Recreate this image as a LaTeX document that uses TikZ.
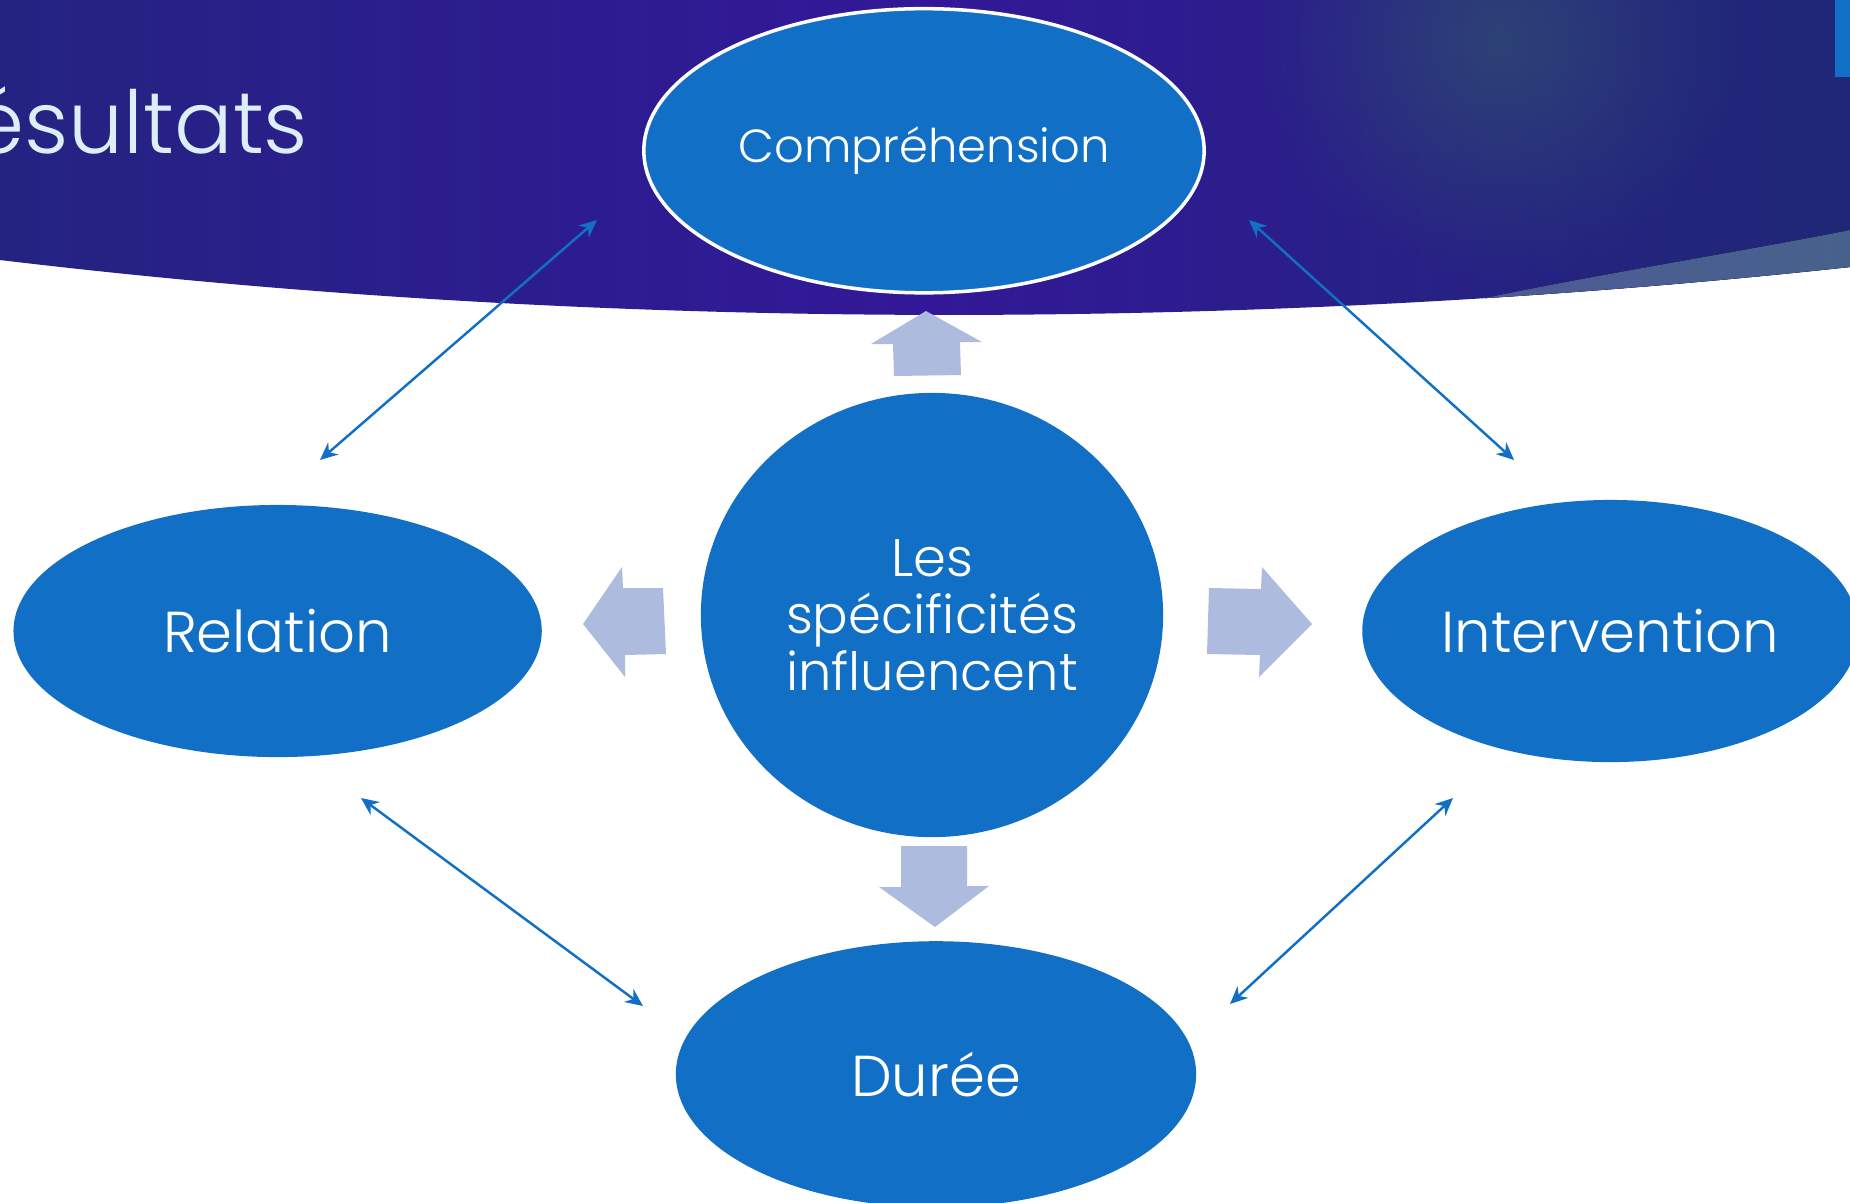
\documentclass[tikz,border=0pt]{standalone}
\usepackage{fontspec}
\setmainfont{Poppins Light}
\usetikzlibrary{shapes.geometric, arrows.meta, fadings}

\definecolor{nodeblue}{RGB}{17,112,198}
\definecolor{arrowblue}{RGB}{173,187,223}
\definecolor{bannerleft}{RGB}{27,46,110}
\definecolor{bannerleftmid}{RGB}{38,34,132}
\definecolor{bannermid}{RGB}{50,24,152}
\definecolor{bannerrightmid}{RGB}{33,38,122}
\definecolor{bannerright}{RGB}{18,50,102}
\definecolor{glowcolor}{RGB}{48,80,112}
\definecolor{titletext}{RGB}{220,238,248}
\pgfdeclarehorizontalshading{banner shade}{100bp}{color(0bp)=(bannerleft); color(28bp)=(bannerleftmid); color(50bp)=(bannermid); color(72bp)=(bannerrightmid); color(100bp)=(bannerright)}
\tikzfading[name=glow fade, inner color=transparent!30, outer color=transparent!100]

\begin{document}
\begin{tikzpicture}[x=0.01cm, y=-0.01cm,
  main node/.style={ellipse, fill=nodeblue, inner sep=0pt, text=white, align=center, font=\fontsize{16.4}{20}\selectfont},
  link/.style={{Stealth[length=5pt, width=4.5pt]}-{Stealth[length=5pt, width=4.5pt]}, nodeblue, line width=0.7pt},
  fat arrow/.style={fill=arrowblue}]

			\useasboundingbox (0,0) rectangle (1850,1202);
			\clip (0,0) rectangle (1850,1202);

			% banner at the top
			\shade[shading=banner shade] (0,0) -- (1850,0) -- (1850,267) .. controls (1250,332) and (600,332) .. (0,260) -- cycle;
			\fill[color=glowcolor, path fading=glow fade] (1500,40) circle (2.4cm);
			\begin{scope}
				\clip (0,0) -- (1850,0) -- (1850,267) .. controls (1250,332) and (600,332) .. (0,260) -- cycle;
				\fill[left color={rgb,255:red,78;green,90;blue,150}, right color={rgb,255:red,70;green,98;blue,140}] (1485,298) .. controls (1600,274) and (1750,250) .. (1850,230) -- (1850,400) -- (1485,400) -- cycle;
			\end{scope}
			\fill[nodeblue] (1835,0) rectangle (1850,77);
			\node[anchor=base east, inner sep=0pt, text=titletext, font=\fontsize{24.7}{28}\selectfont] (title) at (309,153) {ésultats};

			\node[main node, minimum width=4.62cm, minimum height=4.44cm, font=\fontsize{15}{16.2}\selectfont] (spec) at (932,615) {Les\\spécificités\\influencent};
			\node[main node, draw=white, line width=1pt, minimum width=5.6cm, minimum height=2.84cm, font=\fontsize{13.2}{16}\selectfont] (comp) [above of=spec, node distance=4.64cm, xshift=-0.08cm] {Compréhension};
			\node[main node, minimum width=5.28cm, minimum height=2.52cm] (rel) [left of=spec, node distance=6.54cm, yshift=-0.16cm] {Relation};
			\node[main node, minimum width=4.96cm, minimum height=2.62cm] (inter) [right of=spec, node distance=6.78cm, yshift=-0.16cm] {Intervention};
			\node[main node, minimum width=5.2cm, minimum height=2.66cm] (duree) [below of=spec, node distance=4.59cm, xshift=0.04cm] {Durée};

			% block arrows out of the centre
			\fill[fat arrow] (894,376) -- (893,344) -- (871,344) -- (926,311) -- (982,342) -- (960,342) -- (961,375) -- cycle;
			\fill[fat arrow] (901,846) -- (967,846) -- (967,886) -- (989,886) -- (935,927) -- (879,887) -- (901,887) -- cycle;
			\fill[fat arrow] (666,654) -- (625,655) -- (625,677) -- (583,624) -- (622,567) -- (623,588) -- (663,588) -- cycle;
			\fill[fat arrow] (1209,588) -- (1261,589) -- (1262,567) -- (1312,624) -- (1259,677) -- (1260,655) -- (1207,654) -- cycle;

			% links between the outer nodes
			\coordinate (rel top) at (320,460);
			\coordinate (comp left) at (597,220);
			\coordinate (comp right) at (1249,220);
			\coordinate (inter top) at (1514,460);
			\coordinate (rel bottom) at (361,798);
			\coordinate (duree left) at (643,1006);
			\coordinate (inter bottom) at (1453,798);
			\coordinate (duree right) at (1230,1004);
			\draw[link] (rel top) -- (comp left);
			\draw[link] (comp right) -- (inter top);
			\draw[link] (rel bottom) -- (duree left);
			\draw[link] (inter bottom) -- (duree right);

		\end{tikzpicture}
\end{document}
